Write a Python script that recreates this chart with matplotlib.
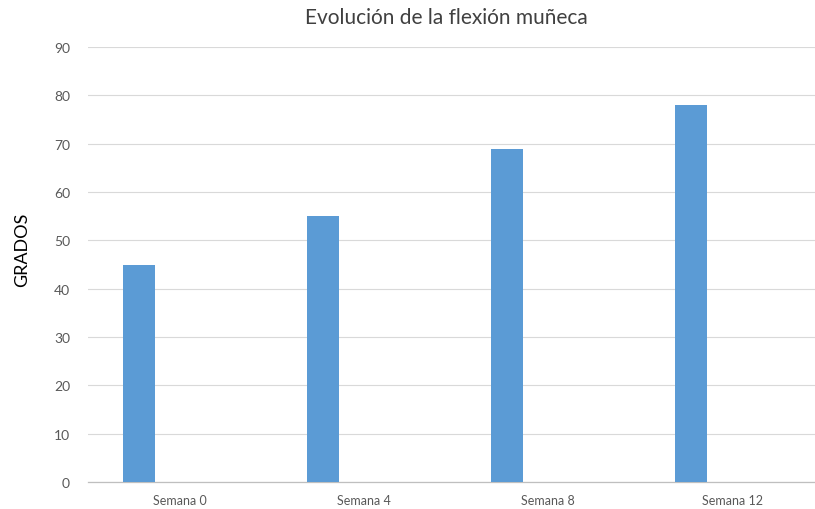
import numpy as np
import matplotlib.pyplot as plt

# data
semanas = ['Semana 0', 'Semana 4', 'Semana 8', 'Semana 12']
grados = [45, 55, 69, 78]
yticks = [0, 10, 20, 30, 40, 50, 60, 70, 80, 90]

plt.rcParams['font.family'] = ['Lato', 'DejaVu Sans']

fig = plt.figure(figsize=(8.15, 5.1), dpi=100)
W, H = 815, 510
left, right = 88, 824
top, bottom = 48, 483
ax = fig.add_axes([left / W, 1 - bottom / H, (right - left) / W, (bottom - top) / H])

x = np.arange(len(semanas))
# bars sit left of the category centre, like an Excel clustered column
ax.bar(x - 0.223, grados, width=0.174, color='#5b9bd5', zorder=3)

ax.set_xlim(-0.5, len(semanas) - 0.5)
ax.set_ylim(0, 90)
ax.set_yticks(yticks)
ax.set_xticks(x)
ax.set_xticklabels(semanas, fontsize=9, color='#595959')
ax.tick_params(axis='y', labelsize=10, colors='#595959', length=0, pad=13)
ax.tick_params(axis='x', length=0, pad=9)
ax.grid(axis='y', color='#d9d9d9', linewidth=0.8, zorder=0)

for s in ['top', 'right', 'left']:
    ax.spines[s].set_visible(False)
ax.spines['bottom'].set_color('#bfbfbf')
ax.spines['bottom'].set_linewidth(0.9)

fig.text(22 / W, 1 - 250 / H, 'GRADOS', rotation=90, ha='center', va='center',
         fontsize=13, color='black')
fig.text(446 / W, 1 - 18 / H, 'Evolución de la flexión muñeca', ha='center', va='center',
         fontsize=15, color='#404040')

fig.savefig('out.png', dpi=100)
